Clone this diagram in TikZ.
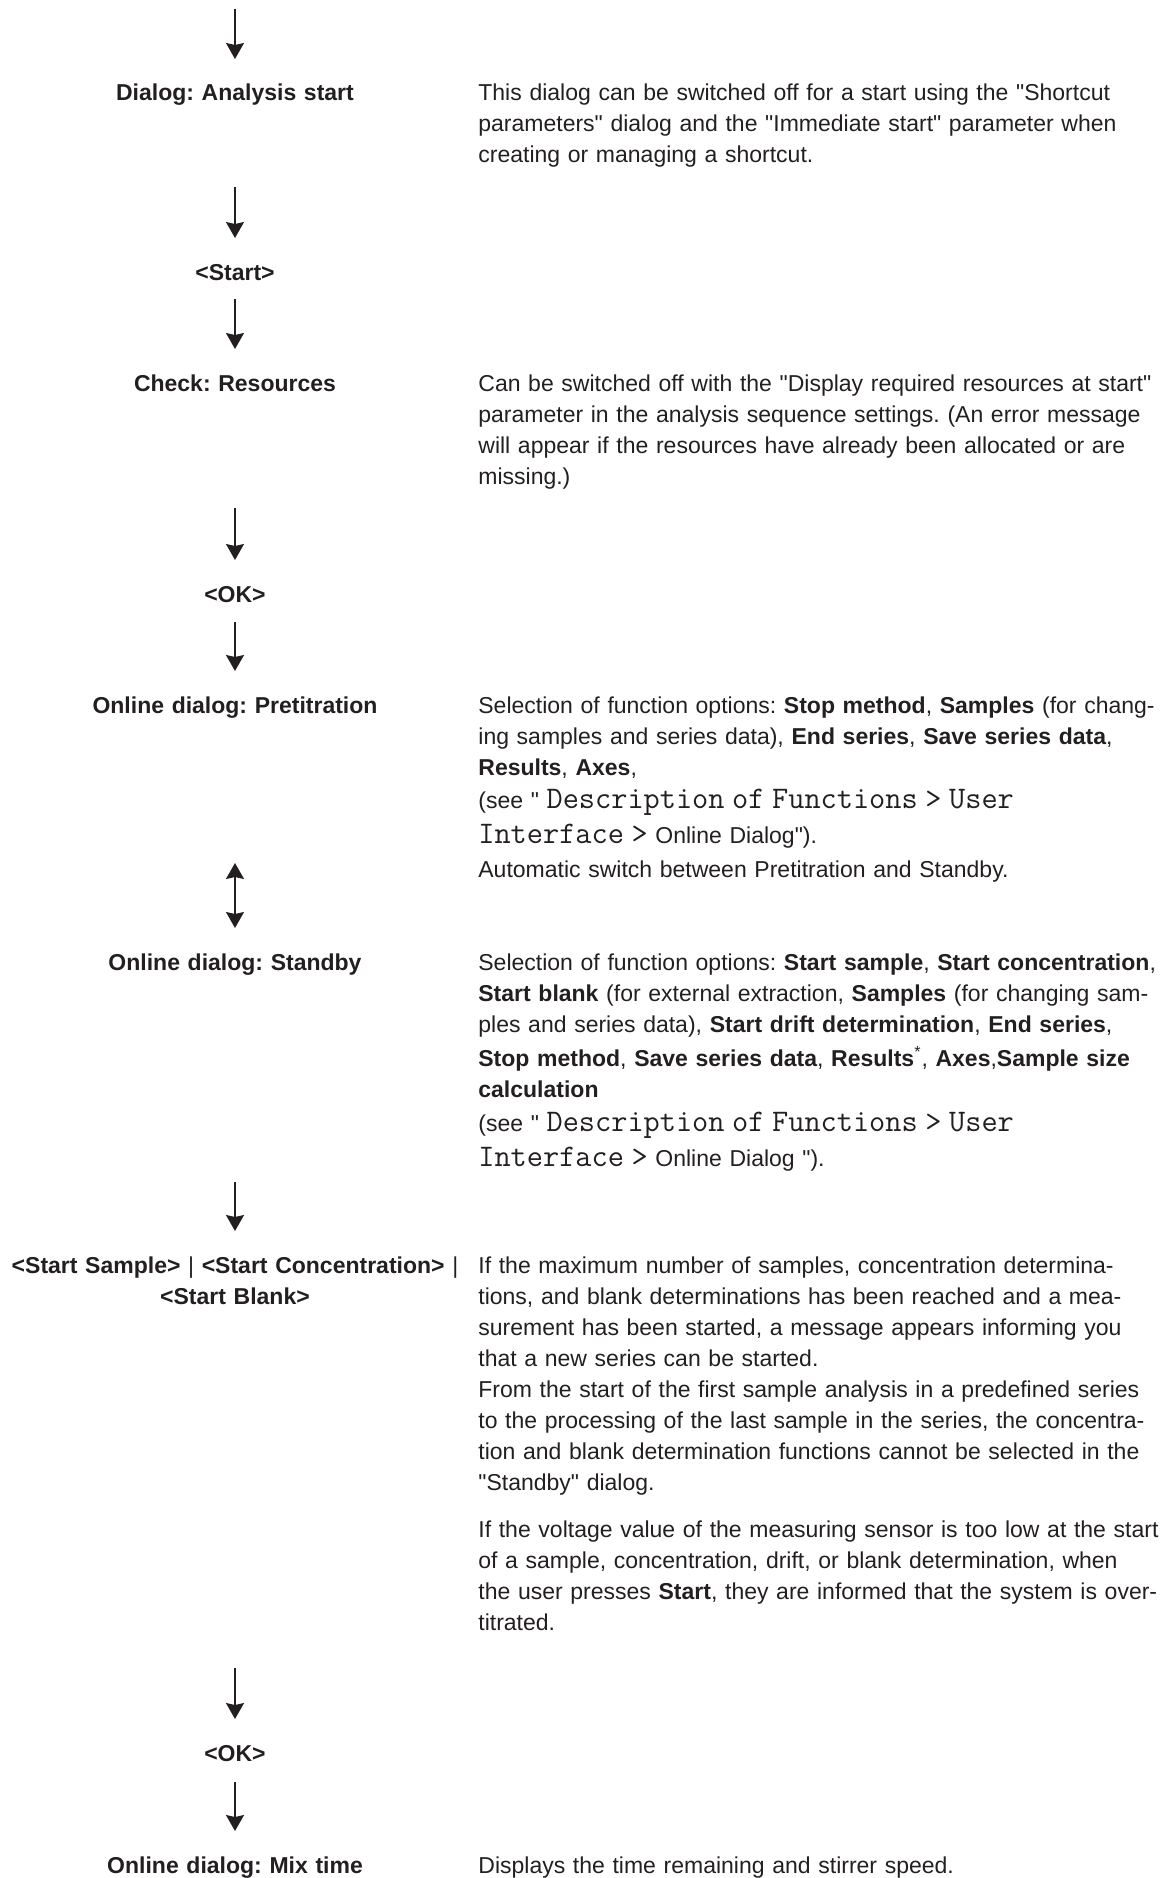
\documentclass[tikz,border=0pt]{standalone}
\usepackage{fontspec}
\setmainfont{Liberation Sans}[Ligatures=TeXOff]
\usetikzlibrary{positioning,arrows.meta}
\definecolor{ink}{RGB}{35,31,32}
\newcommand{\menupath}[1]{{\fontsize{15.7pt}{15.5pt}\selectfont\ttfamily #1}}
\frenchspacing

\begin{document}
\begin{tikzpicture}[color=ink,
        every node/.style={inner sep=0pt, font=\fontsize{11.5pt}{15.5pt}\selectfont},
        lbl/.style={anchor=base, text width=240pt, align=center,
                    font=\fontsize{11.5pt}{15.5pt}\selectfont\bfseries},
        desc/.style={anchor=base west, text width=350pt, align=left},
        flow/.style={-{Stealth[length=8pt,width=9pt,inset=1pt]}, line width=0.65pt, shorten >=21pt},
        dflow/.style={{Stealth[length=8pt,width=9pt,inset=1pt]}-{Stealth[length=8pt,width=9pt,inset=1pt]},
                      line width=0.65pt, shorten >=21pt}]
    \useasboundingbox (0,0) rectangle (582pt,-939pt);
    \coordinate (top) at (117.5pt,-4.5pt);
    \coordinate (txt) at (239pt,0pt);

    \node (Dlg)   [lbl] at (117.5pt,-50.5pt)         {Dialog: Analysis start};
    \node (Start) [below=89.5pt of Dlg.base, lbl]   {<Start>};
    \node (Chk)   [below=55.5pt of Start.base, lbl] {Check: Resources};
    \node (OK1)   [below=105.5pt of Chk.base, lbl]  {<OK>};
    \node (Pre)   [below=55.5pt of OK1.base, lbl]   {Online dialog: Pretitration};
    \node (Stb)   [below=128.5pt of Pre.base, lbl]  {Online dialog: Standby};
    \node (StS)   [below=151.5pt of Stb.base, lbl]  {<Start Sample> {\mdseries|} <Start Concentration> {\mdseries|}\\<Start Blank>};
    \node (OK2)   [below=244pt of StS.base, lbl]    {<OK>};
    \node (Mix)   [below=56pt of OK2.base, lbl]     {Online dialog: Mix time};

    \node (DlgTxt) [desc] at (Dlg.base -| txt) {This dialog can be switched off for a start using the "Shortcut\\
        parameters" dialog and the "Immediate start" parameter when\\
        creating or managing a shortcut.};
    \node (ChkTxt) [desc] at (Chk.base -| txt) {Can be switched off with the "Display required resources at start"\\
        parameter in the analysis sequence settings. (An error message\\
        will appear if the resources have already been allocated or are\\
        missing.)};
    \node (PreTxt) [desc] at (Pre.base -| txt) {Selection of function options: \textbf{Stop method}, \textbf{Samples} (for chang-\\
        ing samples and series data), \textbf{End series}, \textbf{Save series data},\\
        \textbf{Results}, \textbf{Axes},\\[1.25pt]
        (see " \menupath{Description of Functions > User}\\[1.75pt]
        \menupath{Interface >} Online Dialog").\\[1.75pt]
        Automatic switch between Pretitration and Standby.};
    \node (StbTxt) [desc] at (Stb.base -| txt) {Selection of function options: \textbf{Start sample}, \textbf{Start concentration},\\
        \textbf{Start blank} (for external extraction, \textbf{Samples} (for changing sam-\\
        ples and series data), \textbf{Start drift determination}, \textbf{End series},\\[1.5pt]
        \textbf{Stop method}, \textbf{Save series data}, \textbf{Results}\textsuperscript{*}, \textbf{Axes},\textbf{Sample size}\\
        \textbf{calculation}\\[1.75pt]
        (see " \menupath{Description of Functions > User}\\[1.75pt]
        \menupath{Interface >} Online Dialog ").};
    \node (StSTxt) [desc] at (StS.base -| txt) {If the maximum number of samples, concentration determina-\\
        tions, and blank determinations has been reached and a mea-\\
        surement has been started, a message appears informing you\\
        that a new series can be started.\\
        From the start of the first sample analysis in a predefined series\\
        to the processing of the last sample in the series, the concentra-\\
        tion and blank determination functions cannot be selected in the\\
        "Standby" dialog.\\[8pt]
        If the voltage value of the measuring sensor is too low at the start\\
        of a sample, concentration, drift, or blank determination, when\\
        the user presses \textbf{Start}, they are informed that the system is over-\\
        titrated.};
    \node (MixTxt) [desc] at (Mix.base -| txt) {Displays the time remaining and stirrer speed.};

    \draw[flow] (top) -- (Dlg.base);
    \draw[flow, shorten <=43pt] (Dlg.base) -- (Start.base);
    \draw[flow, shorten <=9.5pt] (Start.base) -- (Chk.base);
    \draw[flow, shorten <=58.5pt] (Chk.base) -- (OK1.base);
    \draw[flow, shorten <=10pt] (OK1.base) -- (Pre.base);
    \draw[dflow, shorten <=75pt] (Pre.base) -- (Stb.base);
    \draw[flow, shorten <=106pt] (Stb.base) -- (StS.base);
    \draw[flow, shorten <=197.5pt] (StS.base) -- (OK2.base);
    \draw[flow, shorten <=10.5pt] (OK2.base) -- (Mix.base);
\end{tikzpicture}
\end{document}
